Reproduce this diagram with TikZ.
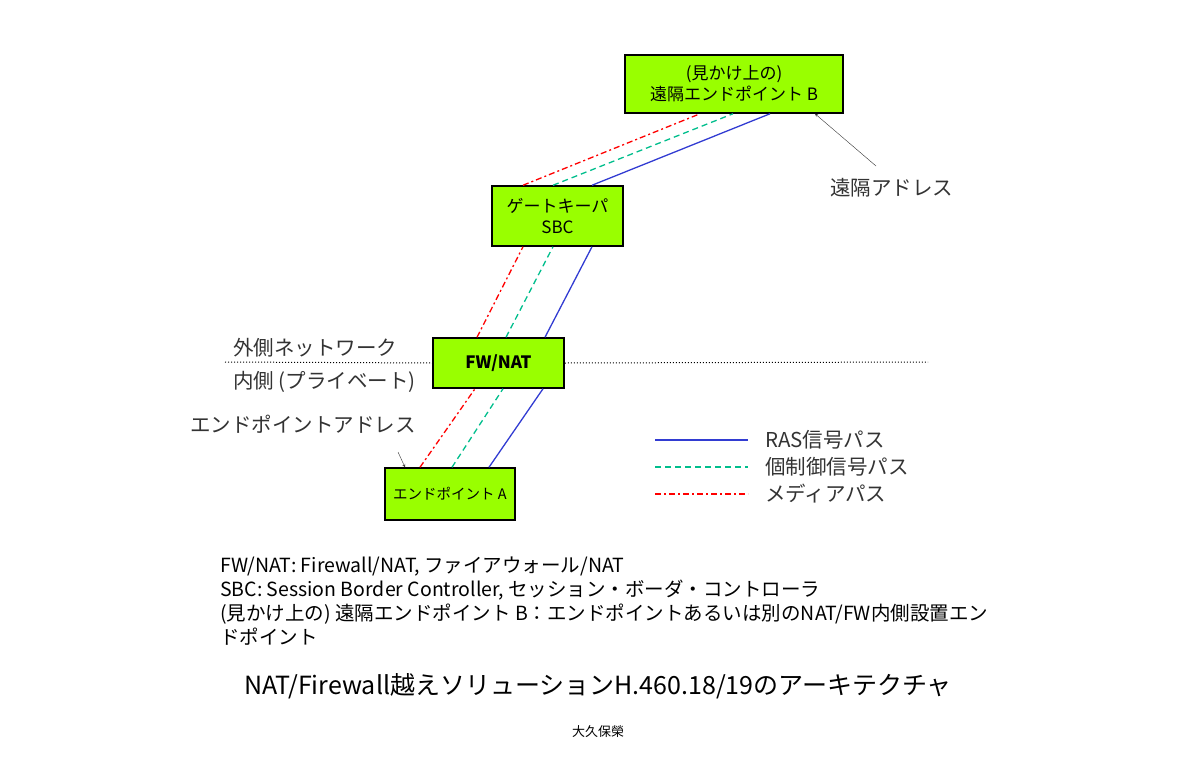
\documentclass[tikz,border=0pt]{standalone}
\usepackage{fontspec}
\setmainfont{Noto Sans CJK JP}
\begin{document}
\begin{tikzpicture}[x=1pt,y=-1pt,
 box/.style={draw=black,line width=1.5pt,fill={rgb,255:red,153;green,255;blue,0},inner sep=0pt,align=center},
 ras/.style={draw={rgb,255:red,50;green,60;blue,210},line width=1.3pt},
 ctl/.style={draw={rgb,255:red,0;green,190;blue,140},line width=1.3pt,dash pattern=on 6pt off 4pt},
 med/.style={draw=red,line width=1.3pt,dash pattern=on 6pt off 3pt on 2pt off 3pt},
 lbl/.style={font=\fontsize{20.5}{24}\selectfont,text=black!80,inner sep=0pt,anchor=west},
 note/.style={font=\fontsize{19.5}{22}\selectfont,inner sep=0pt,anchor=west}]
\useasboundingbox (0,0) rectangle (1200,774);
\node[box,minimum width=218pt,minimum height=58pt,font=\fontsize{17}{21}\selectfont] (B) at (734,84) {(見かけ上の)\\遠隔エンドポイント B};
\node[box,minimum width=131pt,minimum height=60pt,font=\fontsize{17}{21}\selectfont] (G) at (557.5,216) {ゲートキーパ\\SBC};
\node[box,minimum width=131pt,minimum height=50pt,font=\fontsize{17}{21}\selectfont\bfseries] (F) at (498.5,363) {FW/NAT};
\node[box,minimum width=130pt,minimum height=52pt,font=\fontsize{14.5}{17}\selectfont] (A) at (450,494) {エンドポイント A};
\draw[dotted,line width=1pt] (225,362) coordinate (d1) -- (F.west) (F.east) -- (928,362) coordinate (d2);
\draw[ras] (A.north -| 489,0) -- (F.south -| 543,0);
\draw[ras] (F.north -| 545,0) -- (G.south -| 592,0);
\draw[ras] (G.north -| 592,0) -- (B.south -| 770,0);
\draw[ctl] (A.north -| 452,0) -- (F.south -| 503,0);
\draw[ctl] (F.north -| 506,0) -- (G.south -| 553,0);
\draw[ctl] (G.north -| 553,0) -- (B.south -| 733,0);
\draw[med] (A.north -| 420,0) -- (F.south -| 475,0);
\draw[med] (F.north -| 477,0) -- (G.south -| 523,0);
\draw[med] (G.north -| 523,0) -- (B.south -| 700,0);
\node[lbl] (out) at (233,348) {外側ネットワーク};
\node[lbl] (in) at (233,382) {内側 (プライベート)};
\node[lbl] (epa) at (190,424) {エンドポイントアドレス};
\coordinate (ea) at (398,452);
\draw[-stealth,black!80] (ea) -- (A.north -| 405,0);
\node[lbl] (ra) at (830,188) {遠隔アドレス};
\coordinate (rs) at (876,166);
\draw[-stealth,black!80] (rs) -- (B.south -| 815,0);
\coordinate (l1) at (655,440); \coordinate (l1e) at (748,440);
\coordinate (l2) at (655,467); \coordinate (l2e) at (748,467);
\coordinate (l3) at (655,494); \coordinate (l3e) at (748,494);
\draw[ras] (l1) -- (l1e); \draw[ctl] (l2) -- (l2e); \draw[med] (l3) -- (l3e);
\node[lbl] (t1) at (765,440) {RAS信号パス};
\node[lbl] (t2) at (765,467) {個制御信号パス};
\node[lbl] (t3) at (765,494) {メディアパス};
\node[note] (n1) at (220,567) {FW/NAT: Firewall/NAT, ファイアウォール/NAT};
\node[note] (n2) at (220,590) {SBC: Session Border Controller, セッション・ボーダ・コントローラ};
\node[note] (n3) at (220,614) {(見かけ上の) 遠隔エンドポイント B：エンドポイントあるいは別のNAT/FW内側設置エン};
\node[note] (n4) at (220,637) {ドポイント};
\node[font=\fontsize{25}{28}\selectfont,inner sep=0pt] (title) at (598,686) {NAT/Firewall越えソリューションH.460.18/19のアーキテクチャ};
\node[font=\fontsize{13}{15}\selectfont,inner sep=0pt] (auth) at (598,732) {大久保榮};
\end{tikzpicture}
\end{document}
